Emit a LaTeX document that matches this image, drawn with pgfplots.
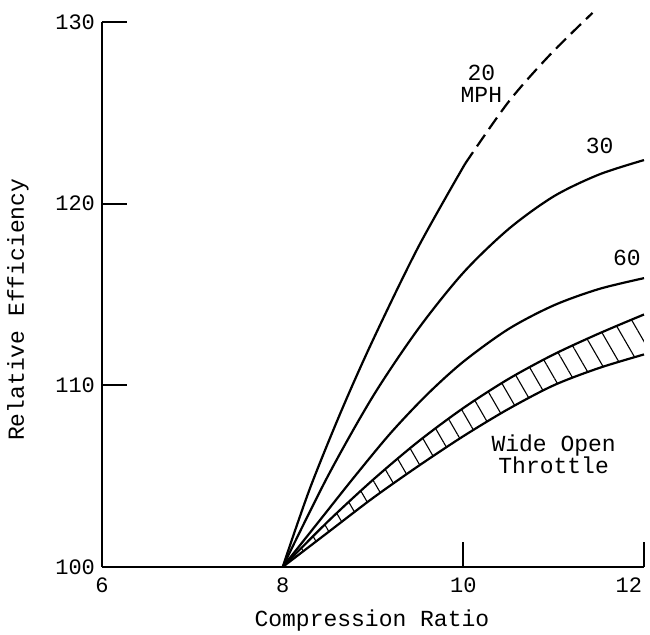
\documentclass[border=0pt]{standalone}
\usepackage{fontspec}
\setmainfont{Liberation Mono}
\usepackage{pgfplots}
\pgfplotsset{compat=1.18}
\usepgfplotslibrary{fillbetween}
\usetikzlibrary{patterns.meta}
\begin{document}
\begin{tikzpicture}
\begin{axis}[
  at={(0,0)}, anchor=south west,
  scale only axis, width=271pt, height=272.5pt,
  xmin=6, xmax=12, ymin=100, ymax=130,
  clip=false,
  axis x line*=bottom, axis y line*=left,
  axis line style={-, line width=1pt},
  tick align=inside,
  major tick length=12.5pt,
  tick style={line width=0.9pt, black},
  xtick={10,12}, ytick={110,120,130},
  xticklabels={10,{\makebox[0pt][r]{12\hspace*{1pt}}}},
  extra x ticks={6,8}, extra y ticks={100},
  extra x tick style={tick style={draw=none}},
  extra y tick style={tick style={draw=none}},
  /pgf/number format/assume math mode=true,
  tick label style={font=\fontsize{11}{13}\selectfont},
  xticklabel style={yshift=-2pt},
  xlabel={Compression Ratio},
  ylabel={Relative Efficiency},
  every axis x label/.style={at={(axis description cs:0.498,-0.099)}, anchor=center, font=\fontsize{11.5}{13}\selectfont},
  every axis y label/.style={at={(axis description cs:-0.155,0.472)}, anchor=center, rotate=90, font=\fontsize{11.5}{13}\selectfont},
]
% 20 MPH solid
\addplot[black, line width=1.1pt, smooth] coordinates {
  (8,100) (8.3,104.3) (8.65,108.6) (9.0,112.5) (9.5,117.6) (10.02,122.2)
};
% 20 MPH dashed extension
\addplot[black, line width=1.1pt, smooth, dash pattern=on 7pt off 3.5pt] coordinates {
  (10.02,122.2) (10.5,125.6) (10.96,128.2) (11.43,130.5)
};
% 30 MPH
\addplot[black, line width=1.1pt, smooth] coordinates {
  (8,100) (8.5,105.0) (9.0,109.4) (9.5,113.1) (10.0,116.2) (10.5,118.6) (11.0,120.4) (11.5,121.6) (12,122.4)
};
% 60 MPH
\addplot[black, line width=1.1pt, smooth] coordinates {
  (8,100) (8.4,102.5) (8.8,105.0) (9.2,107.4) (9.6,109.5) (10.0,111.3) (10.5,113.1) (11.0,114.4) (11.5,115.3) (12,115.9)
};
% Wide open throttle upper
\addplot[black, line width=1.1pt, smooth, name path=up] coordinates {
  (8,100) (8.5,102.5) (9.0,104.8) (9.5,106.9) (10.0,108.75) (10.5,110.35) (11.0,111.7) (11.5,112.85) (12,113.9)
};
% Wide open throttle lower
\addplot[black, line width=1.1pt, smooth, name path=lo] coordinates {
  (8,100) (8.5,101.9) (9.0,103.8) (9.5,105.55) (10.0,107.2) (10.5,108.7) (11.0,110.0) (11.5,110.95) (12,111.7)
};
\addplot[draw=none, pattern={Lines[angle=-60, distance=8pt, line width=0.55pt]}, pattern color=black]
  fill between[of=up and lo];
\node[align=center, font=\fontsize{11.5}{11}\selectfont] at (axis cs:10.2,126.6) {20\\MPH};
\node[font=\fontsize{11.5}{13}\selectfont] at (axis cs:11.51,123.2) {30};
\node[font=\fontsize{11.5}{13}\selectfont] at (axis cs:11.81,117.0) {60};
\node[align=center, font=\fontsize{11.5}{11}\selectfont] at (axis cs:11.0,106.2) {Wide Open\\Throttle};
\end{axis}
\pgfresetboundingbox
\useasboundingbox (-51pt,-33.5pt) rectangle (274pt,283.5pt);
\end{tikzpicture}
\end{document}
